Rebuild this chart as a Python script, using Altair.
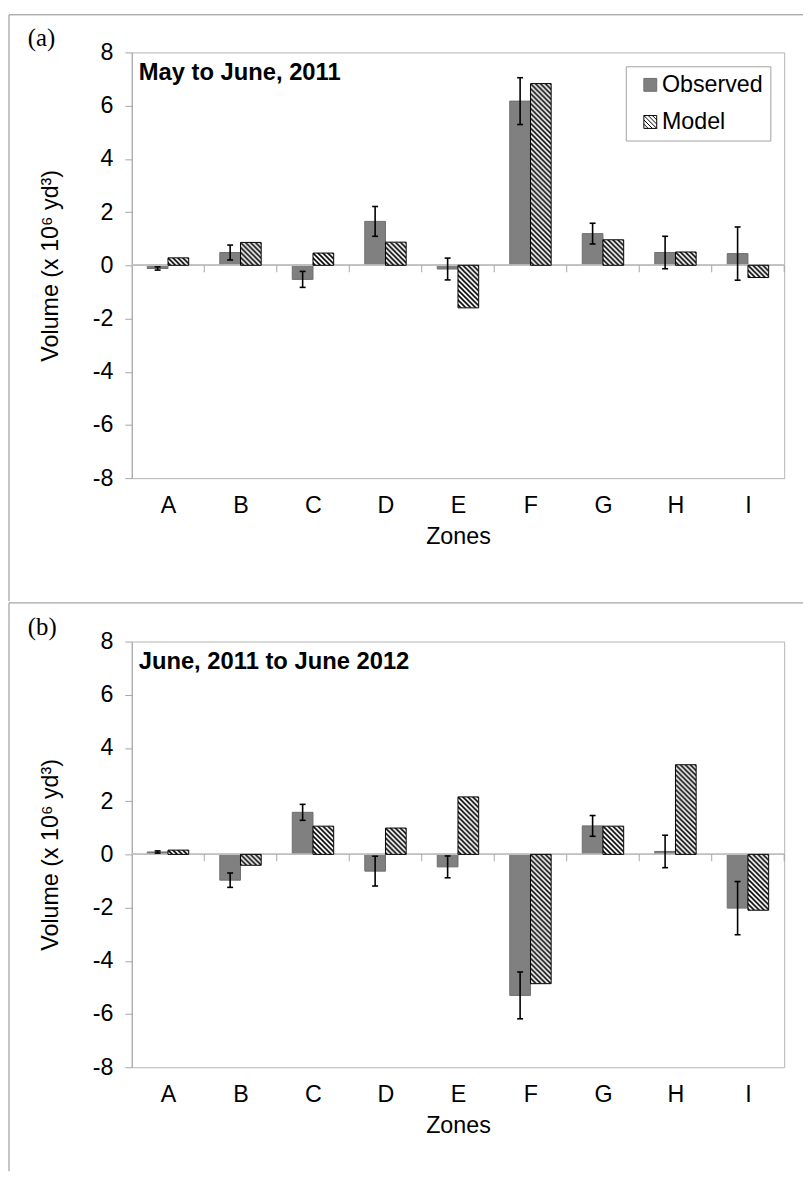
import json
import base64
import altair as alt
import pandas as pd

# ---------------- data ----------------
zones = ["A", "B", "C", "D", "E", "F", "G", "H", "I"]
series = ["Observed", "Model"]

obs_a = [-0.12, 0.48, -0.53, 1.65, -0.14, 6.17, 1.19, 0.48, 0.44]
err_a = [0.06, 0.28, 0.30, 0.56, 0.41, 0.88, 0.39, 0.61, 1.00]
mod_a = [0.28, 0.86, 0.46, 0.87, -1.60, 6.83, 0.96, 0.50, -0.46]

obs_b = [0.09, -0.97, 1.58, -0.63, -0.47, -5.30, 1.07, 0.11, -2.02]
err_b = [0.04, 0.27, 0.30, 0.56, 0.41, 0.88, 0.39, 0.61, 1.00]
mod_b = [0.16, -0.41, 1.06, 0.99, 2.16, -4.86, 1.06, 3.37, -2.10]

y_ticks = [-8, -6, -4, -2, 0, 2, 4, 6, 8]

# ---------------- styling ----------------
W, H = 659, 430
BW = 1 / 3.5              # bar width in category units (gap width 150 %)
OBS = "#808080"
OBS_EDGE = "#6e6e6e"
AXIS_GRAY = "#a6a6a6"
FRAME = "#8c8c8c"
FONT = "Liberation Sans"
FS = 23.5

hatch_svg = (
    "<svg xmlns='http://www.w3.org/2000/svg' width='100%' height='100%'>"
    "<defs><pattern id='p' width='5' height='5' patternUnits='userSpaceOnUse'>"
    "<path d='M-1,-1 L6,6 M-1,4 L1,6 M4,-1 L6,1' stroke='black' stroke-width='1.6'/>"
    "</pattern></defs>"
    "<rect width='100%' height='100%' fill='white'/>"
    "<rect width='100%' height='100%' fill='url(#p)'/></svg>"
)
HATCH_URL = "data:image/svg+xml;base64," + base64.b64encode(hatch_svg.encode()).decode()

MODEL_SYMBOL = (
    "M-1,-1H1V1H-1Z M-1,-1L1,1 M-1,-0.33L0.33,1 M-1,0.33L-0.33,1 "
    "M-0.33,-1L1,0.33 M0.33,-1L1,-0.33"
)


def panel(obs, err, mod, subtitle, tag, frame_top, frame_bottom):
    n = len(zones)
    df = pd.DataFrame({"zone": zones, "idx": list(range(n)),
                       "obs": obs, "err": err, "mod": mod})
    base = alt.Chart(df).transform_calculate(
        ox1=f"datum.idx + 0.5 - {BW}",
        mid="datum.idx + 0.5",
        mx2=f"datum.idx + 0.5 + {BW}",
        ex=f"datum.idx + 0.5 - {BW / 2}",
        bnd="datum.idx + 1",
        lo="datum.obs - datum.err",
        hi="datum.obs + datum.err",
    )
    xs = alt.Scale(domain=[0, n], nice=False, zero=False)
    ys = alt.Scale(domain=[y_ticks[0], y_ticks[-1]], nice=False, zero=False)

    label_axis = alt.Axis(orient="bottom", values=[i + 0.5 for i in range(n)],
                          labelExpr=f"{json.dumps(zones)}[floor(datum.value)]",
                          ticks=False, tickSize=0, domain=False, grid=False,
                          labelFontSize=FS, labelPadding=15.5, labelColor="black",
                          title="Zones", titleFontSize=FS, titleFontWeight="normal",
                          titleColor="black", titlePadding=8)
    y_axis = alt.Axis(orient="left", values=y_ticks, labelExpr="'' + datum.value",
                      tickSize=7, tickColor=AXIS_GRAY, domainColor=AXIS_GRAY,
                      grid=False, labelFontSize=FS, labelPadding=12,
                      labelColor="black",
                      title="Volume (x 10\u2076 yd\u00b3)", titleFontSize=FS,
                      titleFontWeight="normal", titleColor="black", titlePadding=30)

    obs_bar = base.mark_bar(fill=OBS, stroke=OBS_EDGE, strokeWidth=1).encode(
        x=alt.X("ox1:Q", scale=xs, axis=label_axis), x2="mid:Q",
        y=alt.Y("obs:Q", scale=ys, axis=y_axis), y2=alt.datum(0))
    zero_line = base.mark_rule(color="#bfbfbf", strokeWidth=1).encode(
        y=alt.Y(datum=0, scale=ys, axis=None))
    zero_ticks = base.mark_tick(orient="vertical", size=7, thickness=1,
                                color=AXIS_GRAY, opacity=1, yOffset=3.5).encode(
        x=alt.X("bnd:Q", scale=xs, axis=None),
        y=alt.Y(datum=0, scale=ys, axis=None))
    hatch = base.mark_image(aspect=False).encode(
        x=alt.X("mid:Q", scale=xs, axis=None), x2="mx2:Q",
        y=alt.Y("mod:Q", scale=ys, axis=None), y2=alt.datum(0),
        url=alt.value(HATCH_URL))
    outline = base.mark_bar(fillOpacity=0, stroke="black", strokeWidth=1).encode(
        x=alt.X("mid:Q", scale=xs, axis=None), x2="mx2:Q",
        y=alt.Y("mod:Q", scale=ys, axis=None), y2=alt.datum(0))
    err_rule = base.mark_rule(color="black", strokeWidth=1.6).encode(
        x=alt.X("ex:Q", scale=xs, axis=None),
        y=alt.Y("lo:Q", scale=ys, axis=None), y2="hi:Q")
    caps = base.transform_fold(["lo", "hi"], as_=["end", "val"]).mark_tick(
        orient="horizontal", size=6, thickness=1.6, color="black", opacity=1).encode(
        x=alt.X("ex:Q", scale=xs, axis=None),
        y=alt.Y("val:Q", scale=ys, axis=None))

    lg = alt.Legend(title=None, orient="none", legendX=499, legendY=14,
                    labelFontSize=FS, labelColor="black",
                    labelExpr="datum.label + '\u00a0\u00a0'",
                    symbolSize=169, symbolStrokeWidth=1,
                    padding=7, rowPadding=12.5, strokeColor="#a0a0a0",
                    fillColor="white", labelOffset=0, symbolOffset=6)
    leg = alt.Chart(pd.DataFrame({"series": series})).transform_calculate(
        v="null").mark_point(opacity=1, strokeWidth=1).encode(
        x=alt.X("v:Q", scale=xs, axis=None),
        y=alt.Y("v:Q", scale=ys, axis=None),
        fill=alt.Fill("series:N", scale=alt.Scale(domain=series, range=[OBS, "white"]), legend=lg),
        stroke=alt.Stroke("series:N", scale=alt.Scale(domain=series, range=[OBS_EDGE, "black"]), legend=lg),
        shape=alt.Shape("series:N", scale=alt.Scale(domain=series, range=["square", MODEL_SYMBOL]), legend=lg),
    )

    one = alt.Chart(pd.DataFrame({"k": [0]}))
    top_line = one.mark_rule(color=FRAME, strokeWidth=1).encode(
        x=alt.value(-124), x2=alt.value(678), y=alt.value(frame_top))
    left_line = one.mark_rule(color=FRAME, strokeWidth=1).encode(
        x=alt.value(-124), y=alt.value(frame_top), y2=alt.value(frame_bottom))
    sub = one.mark_text(text=subtitle, align="left", baseline="alphabetic",
                        fontSize=24, fontWeight="bold", color="black").encode(
        x=alt.value(7), y=alt.value(28))
    tagt = one.mark_text(text=tag, align="left", baseline="alphabetic",
                         font="Liberation Serif", fontSize=25, color="black").encode(
        x=alt.value(-105), y=alt.value(-7))

    return alt.layer(obs_bar, zero_line, zero_ticks, hatch, outline, err_rule, caps,
                     leg, top_line, left_line, sub, tagt).resolve_axis(
        x="independent", y="independent").properties(width=W, height=H)


pa = panel(obs_a, err_a, mod_a, "May to June, 2011", "(a)", -38, 554)
pb = panel(obs_b, err_b, mod_b, "June, 2011 to June 2012", "(b)", -39, 535)

chart = alt.vconcat(pa, pb, spacing=0).properties(
    padding={"left": 0, "top": 0, "right": 0, "bottom": 0},
    background="white",
).configure(font=FONT).configure_view(stroke="#b4b4b4", strokeWidth=1)

chart.save("out.html", embed_options={"renderer": "svg", "actions": False})
